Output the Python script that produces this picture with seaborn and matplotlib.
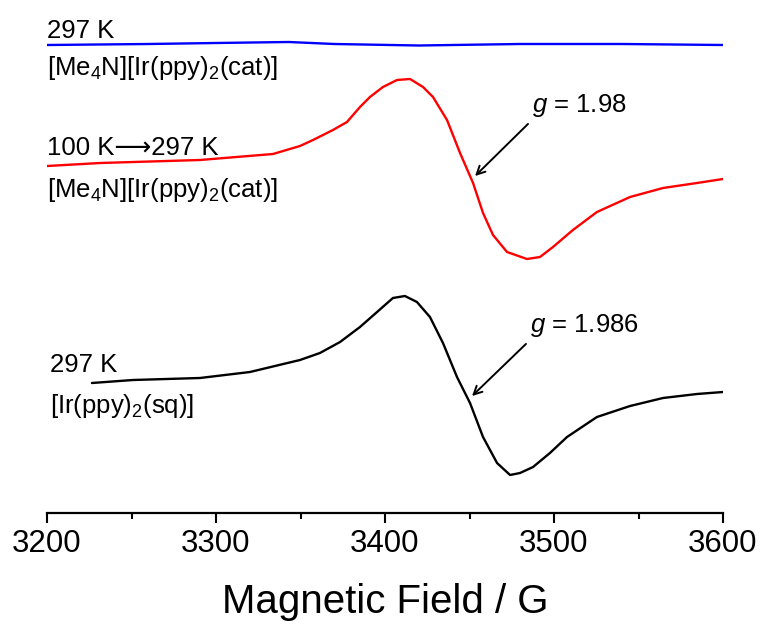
import matplotlib
matplotlib.use("Agg")
import matplotlib.pyplot as plt
import seaborn as sns
import pandas as pd
from matplotlib.ticker import MultipleLocator

# ---- data (field in G, intensity in arbitrary units) ----
blue_field = [3200, 3260, 3300, 3343, 3370, 3420, 3480, 3540, 3600]
blue_int = [468, 469, 470, 471, 469, 467.5, 469, 469, 468]

red_field = [3200.0, 3231.4, 3290.5, 3333.7, 3349.7, 3357.4, 3369.2, 3377.5, 3385.2,
             3391.1, 3398.8, 3407.1, 3414.8, 3422.5, 3428.4, 3436.7, 3444.4, 3452.1,
             3458.0, 3463.9, 3472.2, 3484.0, 3491.7, 3499.4, 3511.2, 3525.4, 3545.0,
             3564.5, 3584.6, 3600.0]
red_int = [347, 350, 353, 359, 367, 373, 383, 391, 406,
           416, 426, 433, 434, 426, 416, 393, 360, 330,
           300, 278, 261, 254, 256, 266, 283, 301, 316,
           325, 330, 334]

black_field = [3226.6, 3250.9, 3290.5, 3320.1, 3349.7, 3361.5, 3373.4, 3385.2, 3395.3,
               3404.7, 3411.8, 3418.9, 3426.6, 3434.3, 3442.6, 3450.3, 3458.0, 3466.3,
               3474.0, 3479.9, 3487.6, 3497.6, 3507.7, 3525.4, 3545.0, 3564.5, 3584.6,
               3600.0]
black_int = [130, 133, 135, 141, 153, 160, 171, 186, 201,
             215, 217, 211, 196, 170, 136, 110, 76, 50,
             38, 40, 46, 60, 76, 96, 107, 115, 119,
             121]

xticks = [3200, 3300, 3400, 3500, 3600]

sns.set_style("white")
plt.rcParams["font.family"] = ["Liberation Sans", "DejaVu Sans"]
plt.rcParams["mathtext.fontset"] = "custom"
plt.rcParams["mathtext.rm"] = "Liberation Sans"
plt.rcParams["mathtext.it"] = "Liberation Sans:italic"
plt.rcParams["text.color"] = "black"
plt.rcParams["axes.labelcolor"] = "black"
plt.rcParams["xtick.color"] = "black"

fig = plt.figure(figsize=(7.63, 6.25), dpi=100)
ax = fig.add_axes([47 / 763, 112 / 625, 676 / 763, 513 / 625])

df = pd.concat([
    pd.DataFrame({"field": blue_field, "y": blue_int, "s": "blue"}),
    pd.DataFrame({"field": red_field, "y": red_int, "s": "red"}),
    pd.DataFrame({"field": black_field, "y": black_int, "s": "black"}),
])
sns.lineplot(data=df, x="field", y="y", hue="s", sort=False, estimator=None,
             palette={"blue": "#0000ff", "red": "#ff0000", "black": "#000000"},
             linewidth=1.7, legend=False, ax=ax)

ax.set_xlim(3200, 3600)
ax.set_ylim(0, 513)
ax.set_xticks(xticks)
ax.xaxis.set_minor_locator(MultipleLocator(50))
ax.set_yticks([])
ax.set_ylabel("")
for s in ["top", "left", "right"]:
    ax.spines[s].set_visible(False)
ax.spines["bottom"].set_linewidth(1.6)
ax.spines["bottom"].set_color("black")
ax.tick_params(axis="x", which="major", direction="out", length=7.5, width=1.5,
               bottom=True, pad=4, labelsize=22.5)
ax.tick_params(axis="x", which="minor", direction="out", length=4, width=1.5,
               bottom=True)
ax.set_xlabel("Magnetic Field / G", fontsize=29, labelpad=17)

fs = 18.5
ax.text(3200, 475, "297 K", fontsize=fs, va="baseline", ha="left")
ax.text(3200, 438, r"[Me$_4$N][Ir(ppy)$_2$(cat)]", fontsize=fs, va="baseline", ha="left")
ax.text(3200, 358, "100 K\u27f6297 K", fontsize=fs, va="baseline", ha="left")
ax.text(3200, 316, r"[Me$_4$N][Ir(ppy)$_2$(cat)]", fontsize=fs, va="baseline", ha="left")
ax.text(3201.8, 141, "297 K", fontsize=fs, va="baseline", ha="left")
ax.text(3201.8, 100, r"[Ir(ppy)$_2$(sq)]", fontsize=fs, va="baseline", ha="left")

ax.annotate("", xy=(3452.1, 335), xytext=(3485.8, 391),
            arrowprops=dict(arrowstyle="->,head_length=0.6,head_width=0.3", color="black", lw=1.4))
ax.text(3487, 401, r"$g$ = 1.98", fontsize=fs, va="baseline", ha="left")
ax.annotate("", xy=(3450.3, 115), xytext=(3484.6, 171),
            arrowprops=dict(arrowstyle="->,head_length=0.6,head_width=0.3", color="black", lw=1.4))
ax.text(3485.8, 181, r"$g$ = 1.986", fontsize=fs, va="baseline", ha="left")

fig.savefig("out.png", dpi=100)
